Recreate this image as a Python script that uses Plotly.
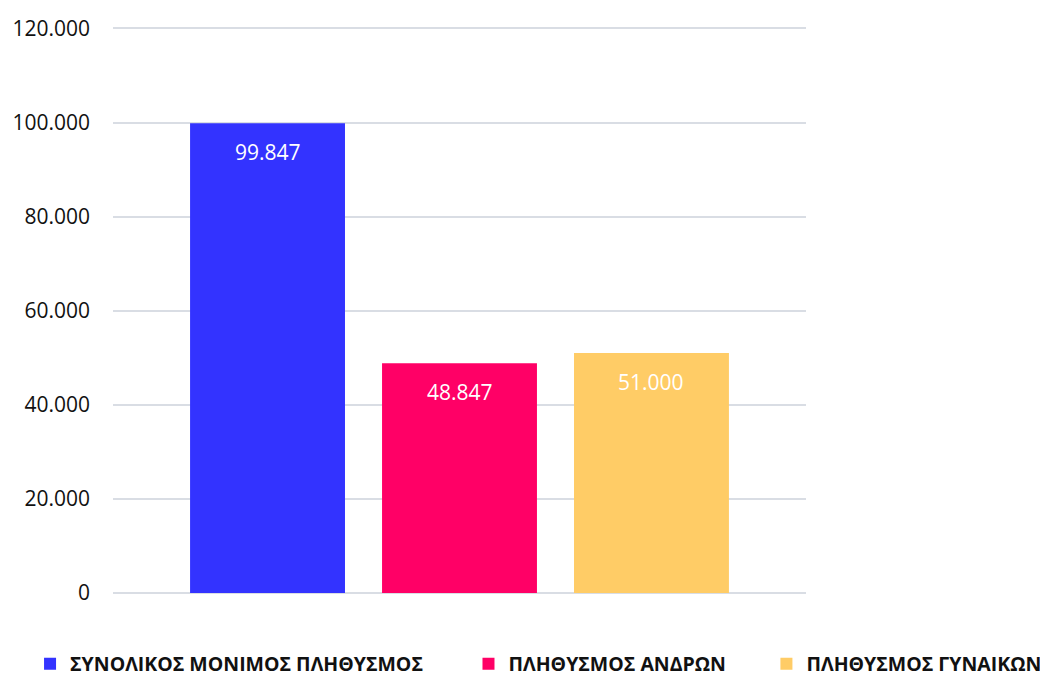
import plotly.graph_objects as go

categories = ["ΣΥΝΟΛΙΚΟΣ ΜΟΝΙΜΟΣ ΠΛΗΘΥΣΜΟΣ", "ΠΛΗΘΥΣΜΟΣ ΑΝΔΡΩΝ", "ΠΛΗΘΥΣΜΟΣ ΓΥΝΑΙΚΩΝ"]
values = [99847, 48847, 51000]
labels = ["99.847", "48.847", "51.000"]
colors = ["#3333FF", "#FF0066", "#FFCC66"]
tick_vals = [0, 20000, 40000, 60000, 80000, 100000, 120000]
tick_text = ["0", "20.000", "40.000", "60.000", "80.000", "100.000", "120.000"]

W, H = 1040, 669
NB = "\u00a0"
legend_pad = [8, 7, 0]  # invisible trailing spacing between legend entries

fig = go.Figure()
for cat, val, lab, col, pad in zip(categories, values, labels, colors, legend_pad):
    fig.add_trace(go.Bar(
        x=[cat], y=[val], name=cat + NB * pad,
        marker=dict(color=col, line=dict(width=0)),
        width=0.807,
        hoverinfo="skip",
    ))
    fig.add_annotation(
        x=cat, y=val, xref="x", yref="y", text=lab, showarrow=False,
        yanchor="middle", yshift=-29,
        font=dict(family="Open Sans", size=21, color="white"),
    )

fig.update_layout(
    width=W, height=H,
    margin=dict(l=0, r=0, t=19, b=84, autoexpand=False),
    paper_bgcolor="white", plot_bgcolor="white",
    barmode="overlay",
    xaxis=dict(
        domain=[105 / W, 798 / W],
        type="category", categoryorder="array", categoryarray=categories,
        range=[-0.805, 2.805], showticklabels=False, showgrid=False,
        zeroline=False, showline=False, ticks="",
    ),
    yaxis=dict(
        range=[0, 120300], tickvals=tick_vals, ticktext=tick_text,
        showgrid=True, gridcolor="#D9DDE4", gridwidth=2,
        zeroline=True, zerolinecolor="#D9DDE4", zerolinewidth=2,
        showline=False, ticks="", ticklabelstandoff=22,
        tickfont=dict(family="Open Sans", size=21, color="#111111"),
    ),
    showlegend=True,
    legend=dict(
        orientation="h", xref="paper", x=0.0212, xanchor="left",
        yref="container", y=(H - 656) / H, yanchor="middle",
        font=dict(family="Open Sans", size=19.5, color="#111111", weight="bold"),
        itemclick=False, itemdoubleclick=False,
    ),
)

fig.write_html("out.html")
